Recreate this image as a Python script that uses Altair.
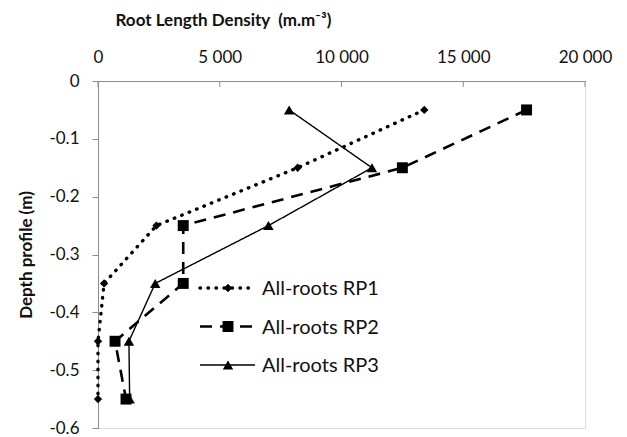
import altair as alt
import pandas as pd

depths = [-0.05, -0.15, -0.25, -0.35, -0.45, -0.55]
rp1 = [13400, 8200, 2400, 250, 0, 0]
rp2 = [17600, 12500, 3500, 3500, 700, 1150]
rp3 = [7850, 11250, 7000, 2350, 1270, 1300]
series_names = ["All-roots RP1", "All-roots RP2", "All-roots RP3"]
x_ticks = [0, 5000, 10000, 15000, 20000]
y_ticks = [0, -0.1, -0.2, -0.3, -0.4, -0.5, -0.6]

FONT = "Lato"
styles = {
    "All-roots RP1": dict(dash=[0.5, 7.5], width=3.4, cap="round", shape="diamond", size=70),
    "All-roots RP2": dict(dash=[12, 8], width=2.6, cap="butt", shape="square", size=120),
    "All-roots RP3": dict(dash=[1, 0], width=1.4, cap="butt", shape="triangle-up", size=110),
}

rows = []
for name, vals in zip(series_names, [rp1, rp2, rp3]):
    for i, (d, v) in enumerate(zip(depths, vals)):
        rows.append({"series": name, "depth": d, "rld": v, "idx": i})
df = pd.DataFrame(rows)

xs = alt.Scale(domain=[0, 20000], nice=False)
ys = alt.Scale(domain=[-0.6, 0], nice=False, zero=False)

layers = []
base = alt.Chart(df).mark_point(opacity=0).encode(
    x=alt.X("rld:Q", scale=xs, axis=alt.Axis(
        orient="top", values=x_ticks, grid=False, tickSize=0, labelFlush=False,
        labelExpr="replace(format(datum.value, ','), ',', ' ')",
        labelFont=FONT, labelFontSize=17, labelColor="#111", labelPadding=15,
        domainColor="#8c8c8c", title="Root Length Density\u00a0 (m.m⁻³)",
        titleFont=FONT, titleFontSize=17, titleFontWeight="bold", titleColor="#111",
        titleAnchor="start", titleX=17, titleY=-52, titleAlign="left")),
    y=alt.Y("depth:Q", scale=ys, axis=alt.Axis(
        values=y_ticks, grid=False, tickSize=6, tickColor="#8c8c8c", labelFlush=False,
        labelExpr="replace(format(datum.value, '.1~f'), '−', '-')",
        labelFont=FONT, labelFontSize=17, labelColor="#111", labelPadding=13,
        domainColor="#8c8c8c", title="Depth profile (m)",
        titleFont=FONT, titleFontSize=17, titleFontWeight="bold", titleColor="#111",
        titlePadding=13)),
)
layers.append(base)

tick_df = pd.DataFrame({"t": x_ticks})
ticks = alt.Chart(tick_df).mark_rule(color="#8c8c8c", strokeWidth=1).encode(
    x=alt.X("t:Q", scale=xs), y=alt.value(0), y2=alt.value(6))
layers.append(ticks)

for k, name in enumerate(series_names):
    st = styles[name]
    sub = alt.Chart(df[df.series == name])
    line = sub.mark_line(color="black", strokeWidth=st["width"], strokeDash=st["dash"],
                         strokeCap=st["cap"]).encode(
        x=alt.X("rld:Q", scale=xs), y=alt.Y("depth:Q", scale=ys), order="idx:Q")
    pts = sub.mark_point(shape=st["shape"], size=st["size"], filled=True, color="black",
                         opacity=1).encode(
        x=alt.X("rld:Q", scale=xs), y=alt.Y("depth:Q", scale=ys))
    layers += [line, pts]
    ly = 207 + 38.5 * k
    leg = alt.Chart(pd.DataFrame({"series": [name]}))
    layers.append(leg.mark_rule(color="black", strokeWidth=st["width"], strokeDash=st["dash"],
                                strokeCap=st["cap"]).encode(
        x=alt.value(102), x2=alt.value(157), y=alt.value(ly)))
    layers.append(leg.mark_point(shape=st["shape"], size=st["size"], filled=True,
                                 color="black", opacity=1).encode(
        x=alt.value(130), y=alt.value(ly)))
    layers.append(leg.mark_text(align="left", baseline="middle", font=FONT, fontSize=20,
                                color="#111").encode(
        x=alt.value(164), y=alt.value(ly + 1), text="series:N"))

chart = alt.layer(*layers).properties(
    width=487, height=347,
    autosize=alt.AutoSizeParams(type="none"),
    padding={"left": 90, "top": 73, "right": 30, "bottom": 10},
).configure_view(stroke=None).configure(background="white")

chart.save("out.html", embed_options={"renderer": "svg", "actions": False})
